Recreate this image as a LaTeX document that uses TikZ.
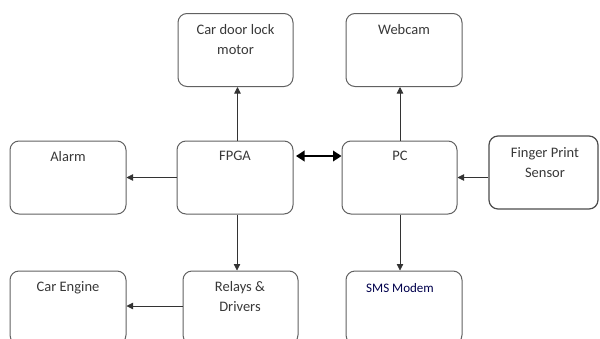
\documentclass[tikz,border=0pt]{standalone}
\usepackage{fontspec}
\setmainfont{Carlito}
\usetikzlibrary{arrows.meta}
\begin{document}
\begin{tikzpicture}[x=1pt,y=-1pt,
  box/.style={draw=black!62, line width=1pt, rounded corners=9pt, minimum width=#1, minimum height=73pt, inner sep=0pt},
  box/.default=116pt,
  lbl/.style={font=\fontsize{14.5}{20}\selectfont, align=center, anchor=north, text=black!78},
  arr/.style={draw=black!80, line width=0.8pt, -{Triangle[length=6.5pt,width=6.5pt]}},
  dbl/.style={draw=black, line width=2.4pt, {Triangle[length=8.5pt,width=10.5pt]}-{Triangle[length=8.5pt,width=10.5pt]}}]
\useasboundingbox (0,0) rectangle (600,338);
\clip (0,0) rectangle (600,338);
\node[box=115pt] (door) at (235.5,50) {};
\node[box] (webcam) at (404,50) {};
\node[box] (alarm) at (68,177.5) {};
\node[box] (fpga) at (235,177.5) {};
\node[box=115pt] (pc) at (399.5,177.5) {};
\node[box=109pt, draw=black!70, line width=1.2pt] (finger) at (543.5,172.5) {};
\node[box] (engine) at (68,307.5) {};
\node[box=115pt] (relays) at (240.5,307.5) {};
\node[box] (sms) at (404,307.5) {};
\node[lbl] (tdoor) at (235.5,21) {Car door lock\\motor};
\node[lbl] (twebcam) at (404,21) {Webcam};
\node[lbl] (talarm) at (68,148) {Alarm};
\node[lbl] (tfpga) at (235,148) {FPGA};
\node[lbl] (tpc) at (400,148) {PC};
\node[lbl] (tfinger) at (545,144) {Finger Print\\Sensor};
\node[lbl] (tengine) at (68,278) {Car Engine};
\node[lbl] (trelays) at (240,278) {Relays \&\\Drivers};
\node[lbl, text=black!70!blue, font=\fontsize{13}{14}\selectfont] (tsms) at (400,280) {SMS Modem};
\draw[arr] ([xshift=2.5pt]fpga.north) -- ([xshift=2.5pt]fpga.north |- door.south);
\draw[arr] ([xshift=0.5pt]pc.north) -- ([xshift=0.5pt]pc.north |- webcam.south);
\draw[arr] (fpga.west) -- (alarm.east);
\draw[arr] (pc.east -| finger.west) -- (pc.east);
\draw[arr] ([xshift=2pt]fpga.south) -- ([xshift=2pt]fpga.south |- relays.north);
\draw[arr] ([xshift=0.5pt]pc.south) -- ([xshift=0.5pt]pc.south |- sms.north);
\draw[arr] ([yshift=1.5pt]relays.west) -- ([yshift=1.5pt]relays.west -| engine.east);
\draw[dbl, shorten <=2.5pt] ([yshift=21.5pt]fpga.east) -- ([yshift=21.5pt]fpga.east -| pc.west);
\end{tikzpicture}
\end{document}
